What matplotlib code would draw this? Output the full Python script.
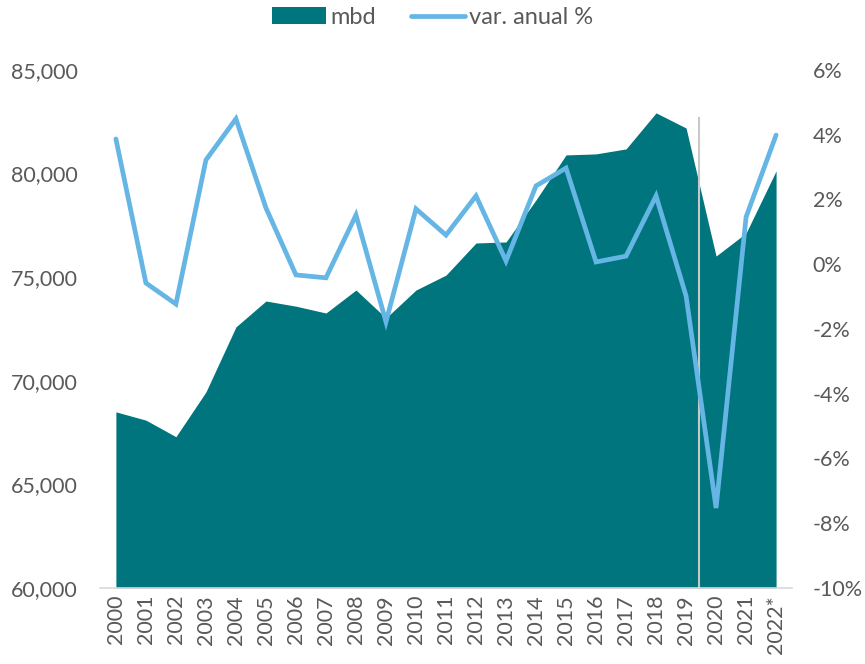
#!/usr/bin/python3
# -*- coding: utf-8 -*-

'''
Oil demand (mbd) and annual change
'''

import matplotlib
matplotlib.use('Agg')
import matplotlib.pyplot as plt
from matplotlib.ticker import FuncFormatter

years = ['2000', '2001', '2002', '2003', '2004', '2005', '2006', '2007',
         '2008', '2009', '2010', '2011', '2012', '2013', '2014', '2015',
         '2016', '2017', '2018', '2019', '2020', '2021', '2022*']
mbd = [68500, 68100, 67300, 69460, 72600, 73850, 73600, 73270,
       74380, 73030, 74380, 75100, 76650, 76700, 78730, 80900,
       80950, 81190, 82930, 82200, 76020, 77130, 80130]
var_anual = [3.87, -0.58, -1.23, 3.22, 4.49, 1.74, -0.33, -0.42,
             1.52, -1.78, 1.71, 0.90, 2.11, 0.10, 2.42, 2.97,
             0.07, 0.25, 2.11, -0.98, -7.53, 1.46, 3.99]

TEAL = '#00757E'
BLUE = '#65B5E5'
GREY = '#595959'

plt.rcParams['font.family'] = ['Lato', 'DejaVu Sans']
plt.rcParams['axes.unicode_minus'] = False

fig = plt.figure(figsize=(8.65, 6.64), dpi=100)
ax = fig.add_axes([0.1156, 0.1145, 0.8, 0.7801])
ax2 = ax.twinx()

x = list(range(len(years)))
ax.fill_between(x, mbd, 60000, color=TEAL, linewidth=0, label='mbd')
# divider between pre and post pandemic
ax.plot([19.42, 19.42], [60000, 82680], color='#C8C8C8', linewidth=1.5)

ax2.plot(x, var_anual, color=BLUE, linewidth=3.4, solid_capstyle='round',
         solid_joinstyle='miter', label='var. anual %')

ax.set_xlim(-0.53, 22.53)
ax.set_ylim(60000, 85000)
ax.set_yticks(range(60000, 85001, 5000))
ax.yaxis.set_major_formatter(FuncFormatter(lambda v, p: f'{int(v):,}'))
ax2.set_ylim(-10, 6)
ax2.set_yticks(range(-10, 7, 2))
ax2.yaxis.set_major_formatter(FuncFormatter(lambda v, p: f'{int(v)}%'))

ax.set_xticks(x)
ax.set_xticklabels(years, rotation=90)

for a in (ax, ax2):
    for s in a.spines.values():
        s.set_visible(False)
    a.tick_params(length=0, labelsize=15.5, colors=GREY)
ax.tick_params(axis='y', pad=16)
ax.tick_params(axis='x', pad=5)
ax2.tick_params(axis='y', pad=15)
ax.spines['bottom'].set_visible(True)
ax.spines['bottom'].set_color('#D9D9D9')
ax.spines['bottom'].set_linewidth(1.2)

h1, l1 = ax.get_legend_handles_labels()
h2, l2 = ax2.get_legend_handles_labels()
fig.legend(h1[:1] + h2, ['mbd', 'var. anual %'], loc='center',
           bbox_to_anchor=(0.5, 0.974), ncol=2, frameon=False,
           fontsize=17, labelcolor=GREY, handlelength=2.3,
           handletextpad=0.15, columnspacing=1.5)

fig.savefig('out.png', dpi=100)
